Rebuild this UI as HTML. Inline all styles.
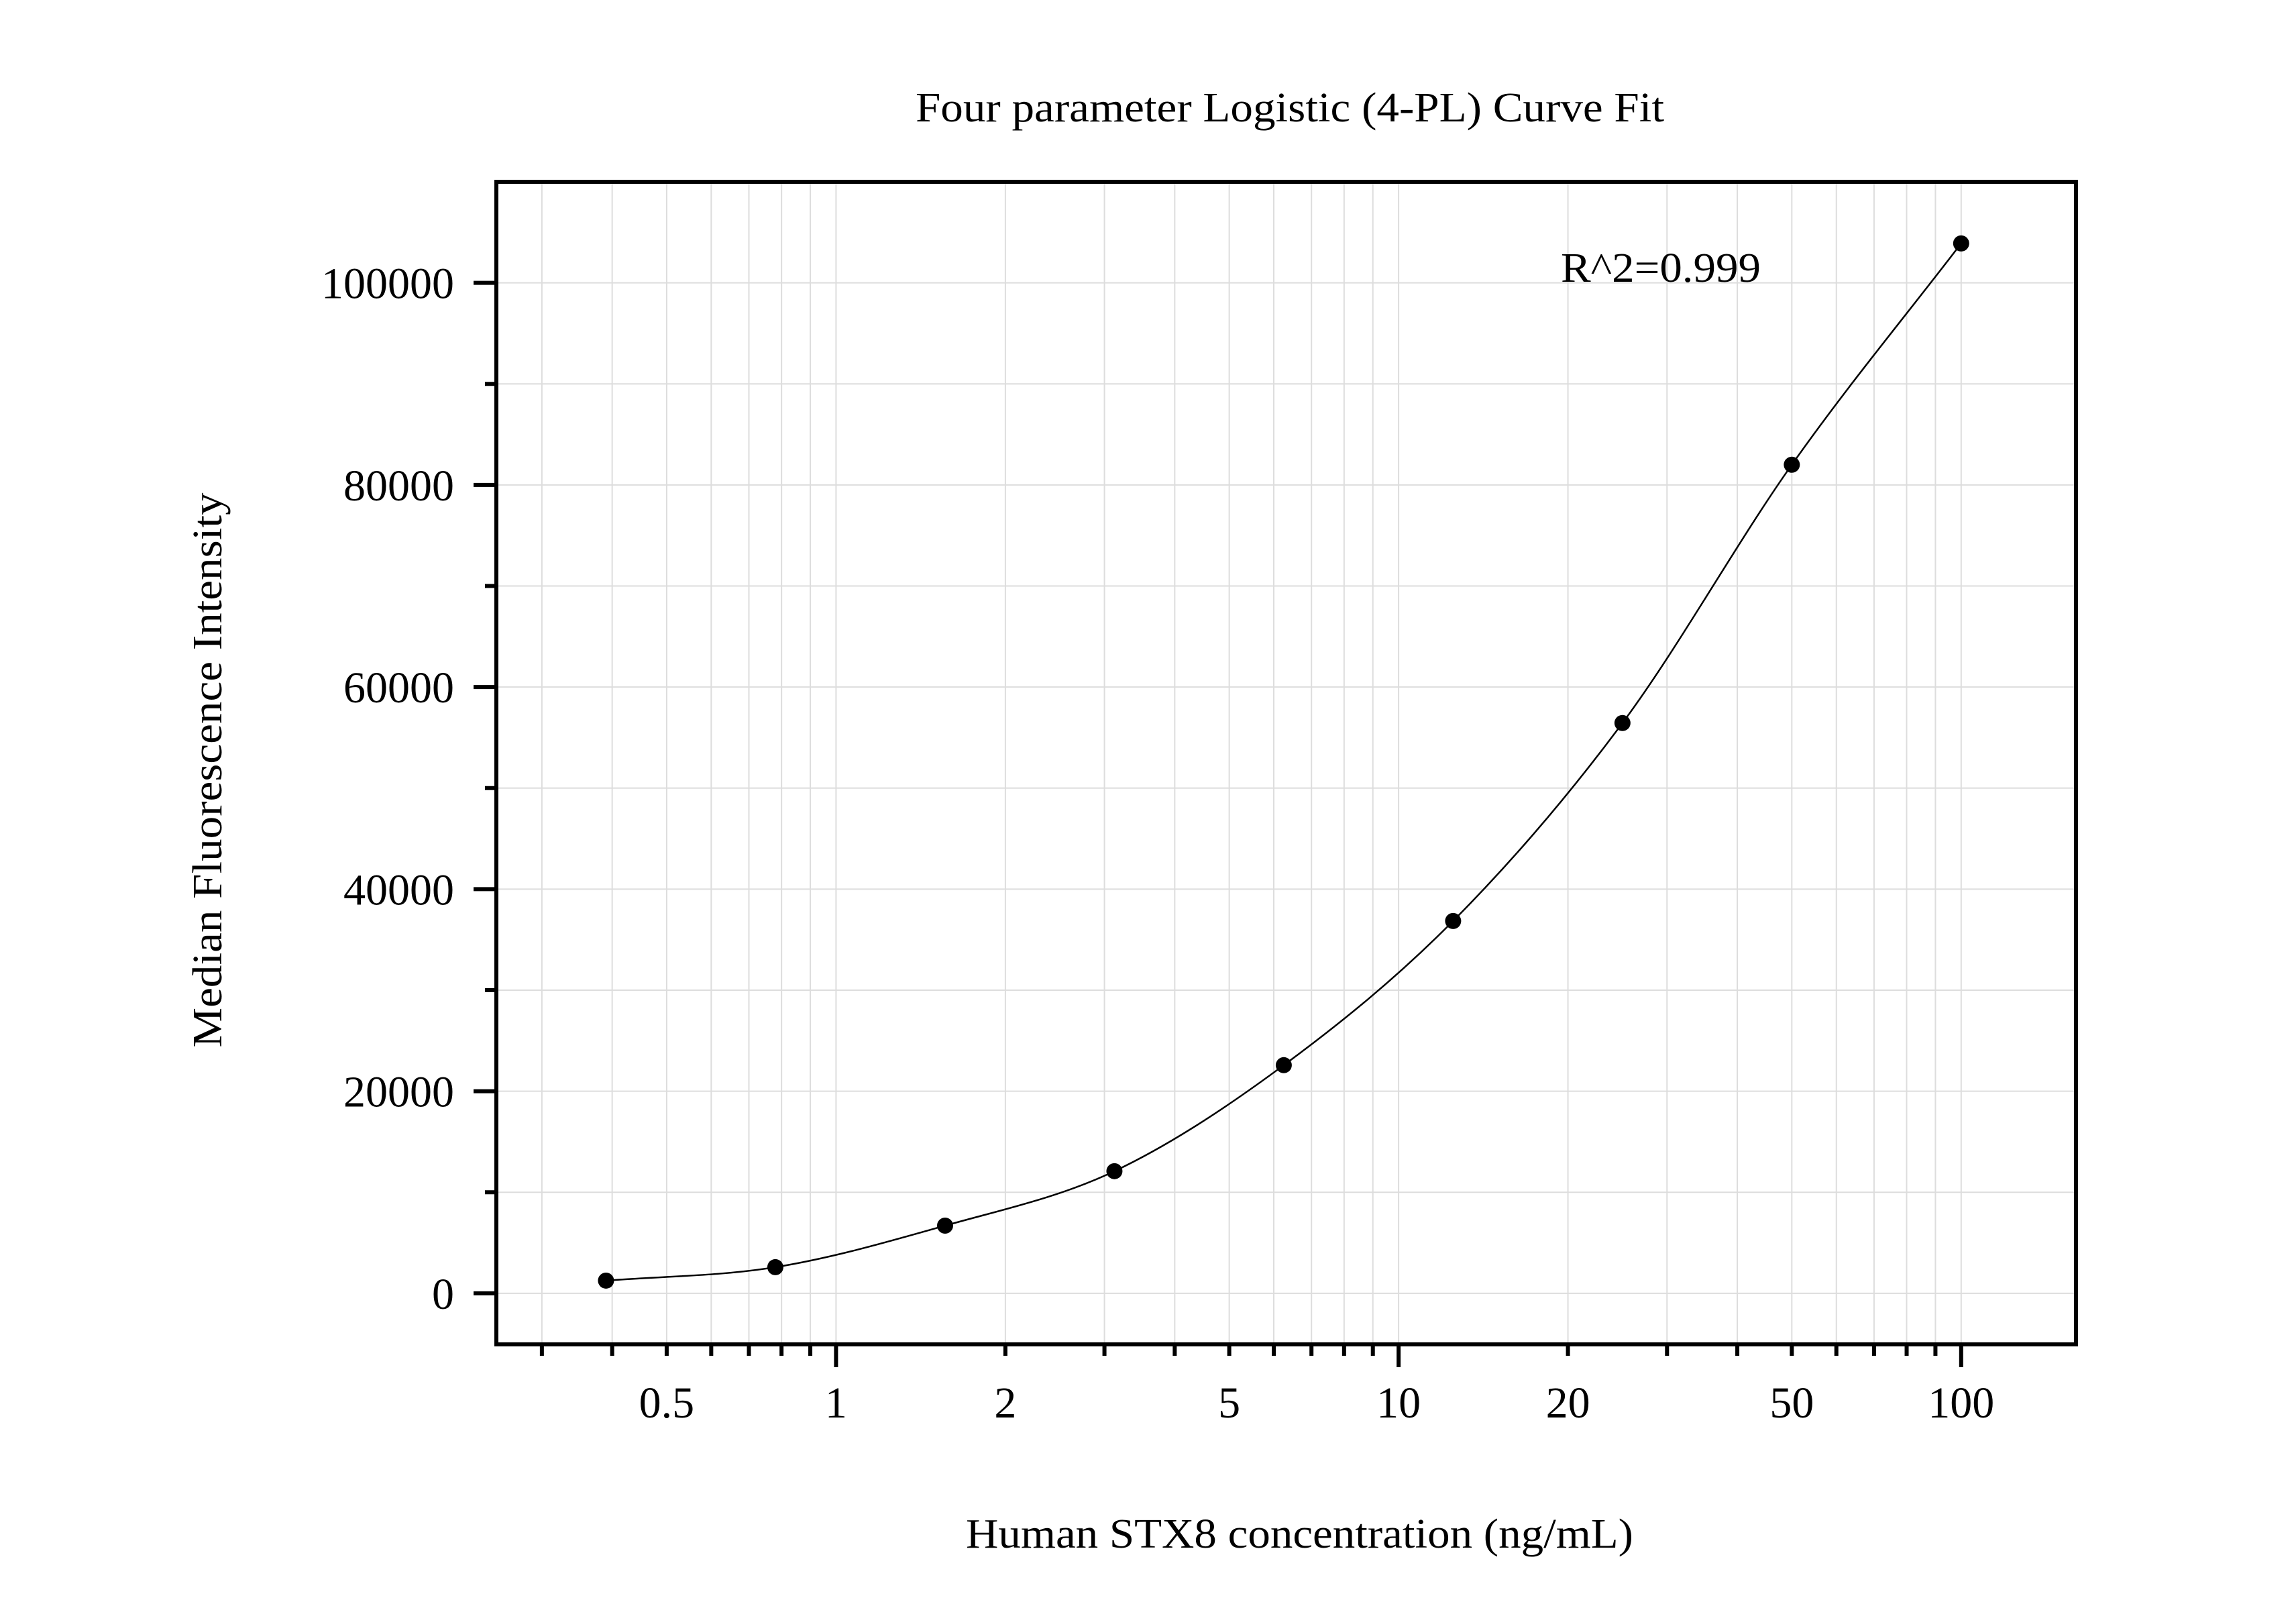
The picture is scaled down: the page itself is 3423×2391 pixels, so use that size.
<!DOCTYPE html>
<html><head><meta charset="utf-8"><style>
html,body{margin:0;padding:0;background:#fff;}
svg{display:block;font-family:"Liberation Serif",serif;}
</style></head><body>
<svg id="chart" width="3423" height="2391" viewBox="0 0 3423 2391" xmlns="http://www.w3.org/2000/svg">
<rect x="0" y="0" width="3423" height="2391" fill="#fff"/>
<g id="grid"></g>
<g id="curve"></g>
<g id="points"></g>
<g id="axes"></g>
<text x="1365" y="181" font-size="62" textLength="1116" lengthAdjust="spacingAndGlyphs">Four parameter Logistic (4-PL) Curve Fit</text>
<text x="2327" y="420" font-size="62" textLength="298" lengthAdjust="spacingAndGlyphs">R^2=0.999</text>
<text x="1440" y="2307" font-size="62" textLength="995" lengthAdjust="spacingAndGlyphs">Human STX8 concentration (ng/mL)</text>
<text transform="translate(330,1148) rotate(-90)" text-anchor="middle" font-size="62" textLength="827" lengthAdjust="spacingAndGlyphs">Median Fluorescence Intensity</text>
</svg>
<script>
const concentrations = [0.39, 0.78, 1.5625, 3.125, 6.25, 12.5, 25, 50, 100];
const mfiValues = [1260, 2590, 6700, 12090, 22580, 36850, 56440, 82000, 103900];
const xTickValues = [0.5, 1, 2, 5, 10, 20, 50, 100];
const xTickLabels = ["0.5", "1", "2", "5", "10", "20", "50", "100"];
const yTickValues = [0, 20000, 40000, 60000, 80000, 100000];
const yTickLabels = ["0", "20000", "40000", "60000", "80000", "100000"];
const xDomain = [0.249, 160];
const yDomain = [-5050, 110000];

const NS = "http://www.w3.org/2000/svg";
const L = 740, R = 3095, T = 271, B = 2004;
const lx0 = Math.log10(xDomain[0]), lx1 = Math.log10(xDomain[1]);
function xs(v){ return L + (Math.log10(v) - lx0) / (lx1 - lx0) * (R - L); }
function ys(v){ return B - (v - yDomain[0]) / (yDomain[1] - yDomain[0]) * (B - T); }
function mk(tag, attrs, parent){ const e = document.createElementNS(NS, tag); for (const k in attrs) e.setAttribute(k, attrs[k]); parent.appendChild(e); return e; }

const grid = document.getElementById('grid');
const axes = document.getElementById('axes');
// x minor/major positions
const xAll = [];
for (let d = -1; d <= 2; d++) for (let m = 1; m <= 9; m++) { const v = m * Math.pow(10, d); if (v >= xDomain[0] && v <= xDomain[1]) xAll.push(v); }
xAll.forEach(v => {
  const x = xs(v);
  const g = mk('line', {x1:x, x2:x, y1:T, y2:B, stroke:'#dddddd', 'stroke-width':2}, grid);
  
  
  const major = Math.abs(Math.log10(v) - Math.round(Math.log10(v))) < 1e-9;
  const t = mk('line', {x1:x, x2:x, y1:B, y2:B + (major ? 34 : 17), stroke:'#000', 'stroke-width':6}, axes);
  
  
});
for (let v = 0; v <= 100000; v += 10000) {
  const y = ys(v);
  const g = mk('line', {x1:L, x2:R, y1:y, y2:y, stroke:'#dddddd', 'stroke-width':2}, grid);
  
  
  const major = v % 20000 === 0;
  const t = mk('line', {x1:L - (major ? 34 : 17), x2:L, y1:y, y2:y, stroke:'#000', 'stroke-width':6}, axes);
  
  
}
xTickValues.forEach((v, i) => {
  const t = mk('text', {x:xs(v), y:2113, 'text-anchor':'middle', 'font-size':66}, axes);
  t.textContent = xTickLabels[i];
  
  
});
yTickValues.forEach((v, i) => {
  const t = mk('text', {x:677, y:ys(v) + 23, 'text-anchor':'end', 'font-size':66}, axes);
  t.textContent = yTickLabels[i];
  
  
});
const frame = mk('rect', {x:L, y:T, width:R - L, height:B - T, fill:'none', stroke:'#000', 'stroke-width':6}, axes);



// smooth curve through points (monotone cubic in log-x)
const px = concentrations.map(xs), py = mfiValues.map(ys);
const n = px.length, dx = [], sl = [];
for (let i = 0; i < n - 1; i++) { dx.push(px[i+1] - px[i]); sl.push((py[i+1] - py[i]) / dx[i]); }
const m = [sl[0]];
for (let i = 1; i < n - 1; i++) m.push((sl[i-1] + sl[i]) / 2);
m.push(sl[n-2]);
let d = `M${px[0]},${py[0]}`;
for (let i = 0; i < n - 1; i++) {
  const h = dx[i] / 3;
  d += ` C${px[i] + h},${py[i] + m[i]*h} ${px[i+1] - h},${py[i+1] - m[i+1]*h} ${px[i+1]},${py[i+1]}`;
}
const path = mk('path', {d:d, fill:'none', stroke:'#000', 'stroke-width':2.5}, document.getElementById('curve'));



concentrations.forEach((c, i) => {
  const p = mk('circle', {cx:xs(c), cy:ys(mfiValues[i]), r:12, fill:'#000'}, document.getElementById('points'));
  
  
});
</script>
</body></html>
